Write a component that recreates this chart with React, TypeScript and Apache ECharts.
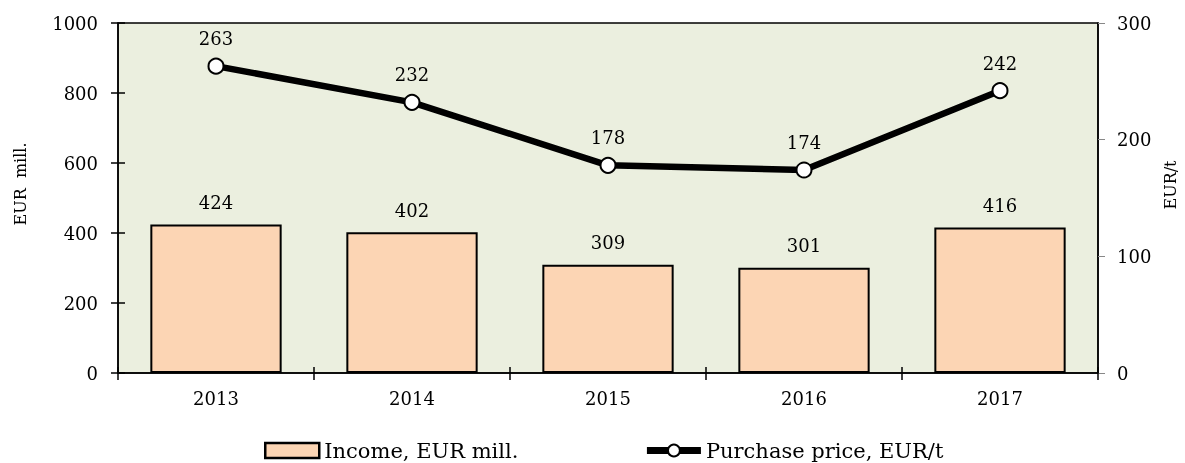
import React, { useEffect, useRef } from "react";
import * as echarts from "echarts";

const years = ["2013", "2014", "2015", "2016", "2017"];
const income = [424, 402, 309, 301, 416];
const price = [263, 232, 178, 174, 242];
const incomeName = "Income, EUR mill.";
const priceName = "Purchase price, EUR/t";

const FONT = "DejaVu Serif";

export default function App() {
  const ref = useRef<HTMLDivElement>(null);
  useEffect(() => {
    if (!ref.current) return;
    document.body.style.margin = "0";
    document.body.style.overflow = "hidden";
    const chart = echarts.init(ref.current, undefined, { renderer: "svg" });
    const txt = { fontFamily: FONT, fontSize: 18, color: "#000" };
    const plain = (v: number) => String(v);
    chart.setOption({
      animation: false,
      textStyle: { fontFamily: FONT },
      grid: {
        left: 118,
        right: 87,
        top: 23,
        bottom: 90,
        outerBoundsMode: "none",
        show: true,
        backgroundColor: "#EBEFDF",
        borderColor: "#000",
        borderWidth: 1.5,
      },
      legend: {
        left: 259,
        top: 435,
        itemGap: 125,
        itemWidth: 54,
        itemHeight: 15,
        textStyle: { ...txt, fontSize: 21 },
        data: [
          { name: incomeName, icon: "rect", itemStyle: { borderWidth: 2.5, borderColor: "#000" } },
          { name: priceName, lineStyle: { width: 7, color: "#000" }, itemStyle: { color: "#fff", borderColor: "#000", borderWidth: 2 } },
        ],
      },
      xAxis: [
        {
          type: "category",
          data: years,
          axisLine: { lineStyle: { color: "#000", width: 1.5 } },
          axisTick: { show: true, length: 7, lineStyle: { color: "#000", width: 1.5 } },
          axisLabel: { ...txt, margin: 16 },
        },
        {
          type: "category",
          data: years,
          position: "bottom",
          axisLine: { show: false },
          axisTick: { show: true, inside: true, length: 6, lineStyle: { color: "#000", width: 1.5 } },
          axisLabel: { show: false },
        },
      ],
      yAxis: [
        {
          type: "value",
          min: 0,
          max: 1000,
          interval: 200,
          position: "left",
          name: "EUR  mill.",
          nameLocation: "middle",
          nameGap: 90,
          nameTextStyle: { ...txt, fontSize: 16, padding: [0, 0, 0, 28] },
          axisLine: { show: true, lineStyle: { color: "#000", width: 1.5 } },
          axisTick: { show: true, length: 7, lineStyle: { color: "#000", width: 1.5 } },
          axisLabel: { ...txt, margin: 20, formatter: plain },
          splitLine: { show: false },
        },
        {
          type: "value",
          min: 0,
          max: 300,
          interval: 100,
          position: "right",
          name: "EUR/t",
          nameLocation: "middle",
          nameGap: 64,
          nameTextStyle: { ...txt, fontSize: 16, padding: [0, 0, 0, 26] },
          axisLine: { show: true, lineStyle: { color: "#000", width: 1.5 } },
          axisTick: { show: true, length: 7, lineStyle: { color: "#888", width: 1 } },
          axisLabel: { ...txt, margin: 19, formatter: plain },
          splitLine: { show: false },
        },
        {
          type: "value",
          min: 0,
          max: 1000,
          interval: 200,
          position: "left",
          axisLine: { show: false },
          axisTick: { show: true, inside: true, length: 7, lineStyle: { color: "#000", width: 1.5 } },
          axisLabel: { show: false },
          splitLine: { show: false },
        },
      ],
      series: [
        {
          name: incomeName,
          type: "bar",
          data: income,
          barWidth: "67%",
          itemStyle: { color: "#FCD5B4", borderColor: "#000", borderWidth: 2 },
          label: { show: true, position: "top", distance: 13, ...txt },
          z: 2,
        },
        {
          name: priceName,
          type: "line",
          yAxisIndex: 1,
          data: price,
          symbol: "circle",
          symbolSize: 15,
          lineStyle: { color: "#000", width: 6.5 },
          itemStyle: { color: "#fff", borderColor: "#000", borderWidth: 2 },
          label: { show: true, position: "top", distance: 10, ...txt },
          z: 3,
        },
      ],
    });
    return () => chart.dispose();
  }, []);
  return (
    <div
      ref={ref}
      style={{ position: "fixed", left: 0, top: 0, width: 1185, height: 463 }}
    />
  );
}
